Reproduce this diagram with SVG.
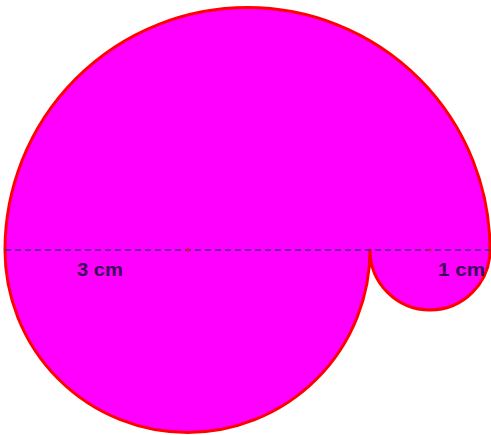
<svg xmlns="http://www.w3.org/2000/svg" width="491" height="435" viewBox="0 0 491 435">
<style>
.shape{fill:#ff00ff;stroke:#ff0000;stroke-width:3;stroke-linejoin:round}
.dash{stroke:#4a2a8a;stroke-width:1.5;stroke-dasharray:6 4;fill:none}
.lbl{font-family:"Liberation Sans",Arial,sans-serif;font-weight:bold;font-size:18px;fill:#3a0a5a}
.dot{fill:#c0205a}
</style>
<rect width="491" height="435" fill="#ffffff"/>
<g id="shell">
<path class="shape" d="M5,250 A242.5,242.5 0 0 1 490,250 A60,60 0 0 1 370,250 A182.5,182.5 0 0 1 5,250 Z"/>
</g>
<g id="connectors">
<line class="dash" x1="5" y1="250" x2="490" y2="250"/>
<circle class="dot" cx="188" cy="250" r="2"/>
<circle class="dot" cx="430" cy="250" r="1.5"/>
</g>
<g id="labels">
<text class="lbl" x="77" y="276" textLength="46" lengthAdjust="spacingAndGlyphs">3 cm</text>
<text class="lbl" x="438" y="276" textLength="47" lengthAdjust="spacingAndGlyphs">1 cm</text>
</g>
</svg>
